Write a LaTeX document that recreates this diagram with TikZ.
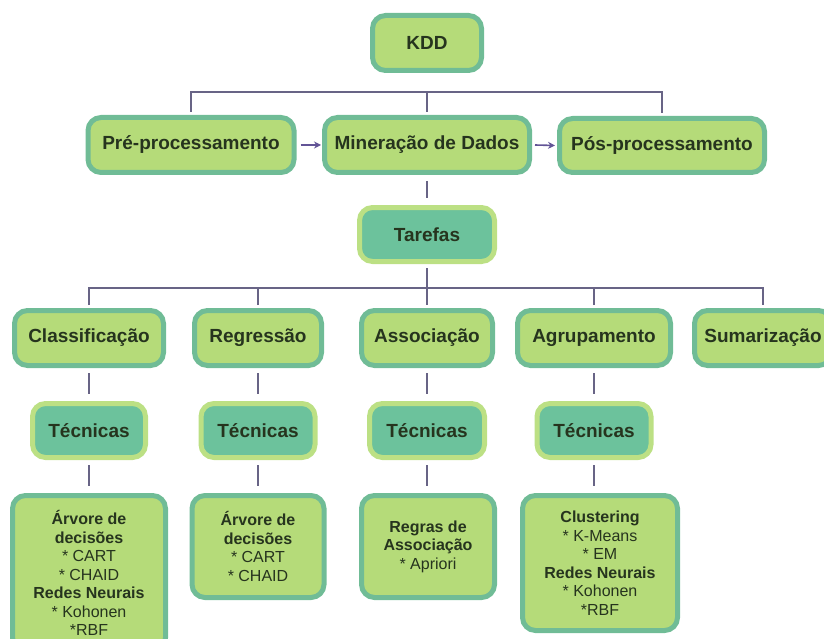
\documentclass[tikz,border=0pt]{standalone}
\usepackage{fontspec}
\setmainfont{Liberation Sans}
\usetikzlibrary{arrows.meta}
\definecolor{green1}{RGB}{181,219,121}
\definecolor{green2}{RGB}{188,224,132}
\definecolor{teal1}{RGB}{112,188,150}
\definecolor{teal2}{RGB}{108,194,156}
\definecolor{ink1}{RGB}{38,52,30}
\definecolor{line1}{RGB}{104,100,134}
\definecolor{arrow1}{RGB}{98,84,150}

\begin{document}
\begin{tikzpicture}[x=1pt, y=-1pt, line width=5pt,
  box/.style={rounded corners=13pt, fill=green1, draw=teal1, text=ink1, inner sep=0pt, font=\fontsize{19}{22}\selectfont\bfseries},
  tbox/.style={box, fill=teal2, draw=green2},
  abox/.style={box, anchor=north, align=center, font=\fontsize{16}{18.5}\selectfont},
  conn/.style={draw=line1, line width=1.6pt},
  flow/.style={draw=arrow1, line width=1.6pt, -{Stealth[length=7pt,width=7pt]}}]
\useasboundingbox (0,0) rectangle (824,639);
\clip (0,0) rectangle (824,639);
  \node[box, minimum width=109, minimum height=55] (kdd) at (427,43) {KDD};
  \node[box, minimum width=206, minimum height=55] (p1) at (191,145) {Pré-processamento};
  \node[box, minimum width=205, minimum height=55] (p2) at (427,145) {Mineração de Dados};
  \node[box, minimum width=205, minimum height=54] (p3) at (662,145.5) {Pós-processamento};
  \node[tbox, minimum width=135, minimum height=54] (tar) at (427,234.5) {Tarefas};
  \node[box, minimum width=149, minimum height=55] (t1) at (89,338) {Classificação};
  \node[box, minimum width=127, minimum height=55] (t2) at (258,338) {Regressão};
  \node[box, minimum width=131, minimum height=55] (t3) at (427,338) {Associação};
  \node[box, minimum width=153, minimum height=55] (t4) at (594,338) {Agrupamento};
  \node[box, minimum width=137, minimum height=55] (t5) at (763,338) {Sumarização};
  \node[tbox, minimum width=113, minimum height=54] (k1) at (89,430.5) {Técnicas};
  \node[tbox, minimum width=114, minimum height=54] (k2) at (258,430.5) {Técnicas};
  \node[tbox, minimum width=115, minimum height=54] (k3) at (427,430.5) {Técnicas};
  \node[tbox, minimum width=114, minimum height=54] (k4) at (594,430.5) {Técnicas};
  \node[abox, minimum width=153, minimum height=155] (a1) at (89,493) {\textbf{Árvore de}\\\textbf{decisões}\\{}* CART\\{}* CHAID\\\textbf{Redes Neurais}\\{}* Kohonen\\{}*RBF};
  \node[abox, minimum width=132, minimum height=102] (a2) at (258,493) {\textbf{Árvore de}\\\textbf{decisões}\\{}* CART\\{}* CHAID};
  \node[abox, minimum width=133, minimum height=102] (a3) at (428,493) {\textbf{Regras de}\\\textbf{Associação}\\{}* Apriori};
  \node[abox, minimum width=155, minimum height=135] (a4) at (600,493) {\textbf{Clustering}\\{}* K-Means\\{}* EM\\\textbf{Redes Neurais}\\{}* Kohonen\\{}*RBF};
  \coordinate (b1) at (427,92);
  \coordinate (b2) at (427,288);
\draw[conn] ([yshift=3pt]p1.north) |- (b1) -| ([yshift=3pt]p3.north);
\draw[conn] (b1) -- ([yshift=3pt]p2.north);
\draw[conn] ([yshift=-6pt]p2.south) -- ([yshift=7pt]tar.north);
\draw[conn] ([yshift=-4pt]tar.south) -- ([yshift=3pt]t3.north);
\draw[conn] ([yshift=3pt]t1.north) |- (b2) -| ([yshift=3pt]t5.north);
  \foreach \n in {t2, t4}
   \draw[conn] ([yshift=3pt]\n.north) -- (\n.north |- b2);
  \foreach \from/\to in {t1/k1, t2/k2, t3/k3, t4/k4, k1/a1, k2/a2, k3/a3, k4/a4}
   \draw[conn] ([yshift=-5pt]\from.south) -- ([yshift=7pt]\from.south |- \to.north);
\draw[flow] ([xshift=4pt]p1.east) -- ([xshift=-1pt]p2.west);
\draw[flow] ([xshift=3pt]p2.east) -- ([xshift=-2pt]p3.west);
    \end{tikzpicture}
\end{document}
